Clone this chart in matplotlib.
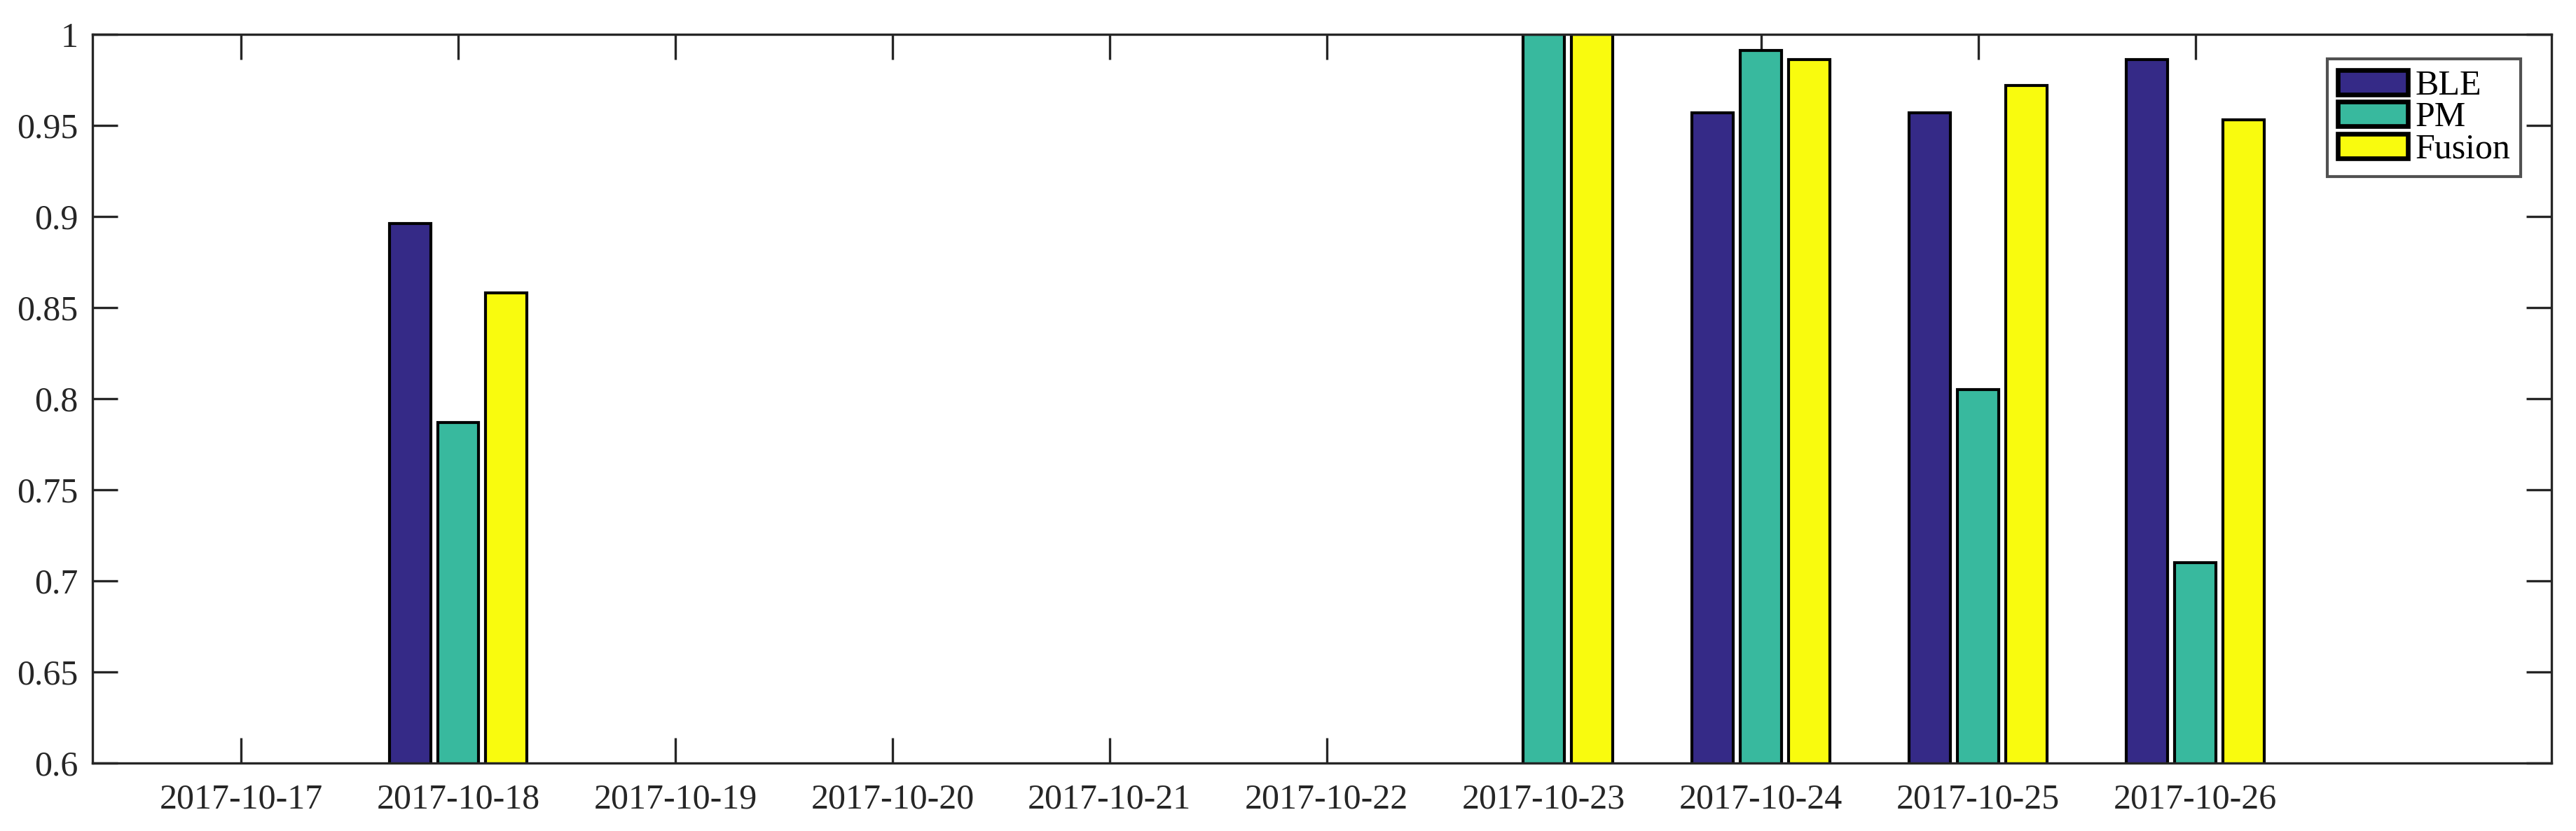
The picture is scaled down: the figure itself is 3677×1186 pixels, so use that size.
import numpy as np
import matplotlib
matplotlib.use("Agg")
import matplotlib.pyplot as plt

dates = ["2017-10-17", "2017-10-18", "2017-10-19", "2017-10-20", "2017-10-21",
         "2017-10-22", "2017-10-23", "2017-10-24", "2017-10-25", "2017-10-26"]
nan = np.nan
ble = [nan, 0.896, nan, nan, nan, nan, nan, 0.957, 0.957, 0.986]
pm = [nan, 0.787, nan, nan, nan, nan, 1.000, 0.991, 0.805, 0.710]
fusion = [nan, 0.858, nan, nan, nan, nan, 1.000, 0.986, 0.972, 0.953]
series_names = ["BLE", "PM", "Fusion"]
colors = ["#352a87", "#38b99e", "#f9fb0e"]

plt.rcParams['font.family'] = ['Liberation Serif', 'DejaVu Serif']

fig = plt.figure(figsize=(3677/300, 1186/300), dpi=300)
ax = fig.add_axes([132/3677, 1 - 1089/1186, (3642-132)/3677, (1089-49)/1186])

x = np.arange(1, len(dates) + 1)
offset = 0.222
width = 0.19
for i, (vals, name, c) in enumerate(zip([ble, pm, fusion], series_names, colors)):
    ax.bar(x + (i - 1) * offset, vals, width, color=c, edgecolor='black',
           linewidth=1.0, label=name, zorder=2)

ax.set_xlim(0.316, 11.64)
ax.set_ylim(0.6, 1.0)
ax.set_yticks(np.arange(0.6, 1.0001, 0.05))
ax.set_yticklabels(["0.6", "0.65", "0.7", "0.75", "0.8", "0.85", "0.9", "0.95", "1"])
ax.set_xticks(x)
ax.set_xticklabels(dates)

spine_c = '#262626'
for s in ax.spines.values():
    s.set_color(spine_c)
    s.set_linewidth(0.8)
    s.set_zorder(3)
ax.tick_params(axis='both', direction='in', length=8.6, width=0.8, color=spine_c,
               labelsize=12, labelcolor=spine_c, top=True, right=True)
ax.tick_params(axis='x', pad=7)
ax.tick_params(axis='y', pad=5)

leg = ax.legend(loc='upper right', bbox_to_anchor=(0.9875, 0.966), borderaxespad=0,
                fontsize=12, frameon=True, fancybox=False, handlelength=2.0,
                handleheight=0.7, handletextpad=0.2, labelspacing=-0.02,
                borderpad=0.3)
leg.get_frame().set_edgecolor(spine_c)
leg.get_frame().set_linewidth(1.0)
for h in leg.legend_handles:
    h.set_linewidth(1.6)

fig.savefig("out.png", dpi=300)
